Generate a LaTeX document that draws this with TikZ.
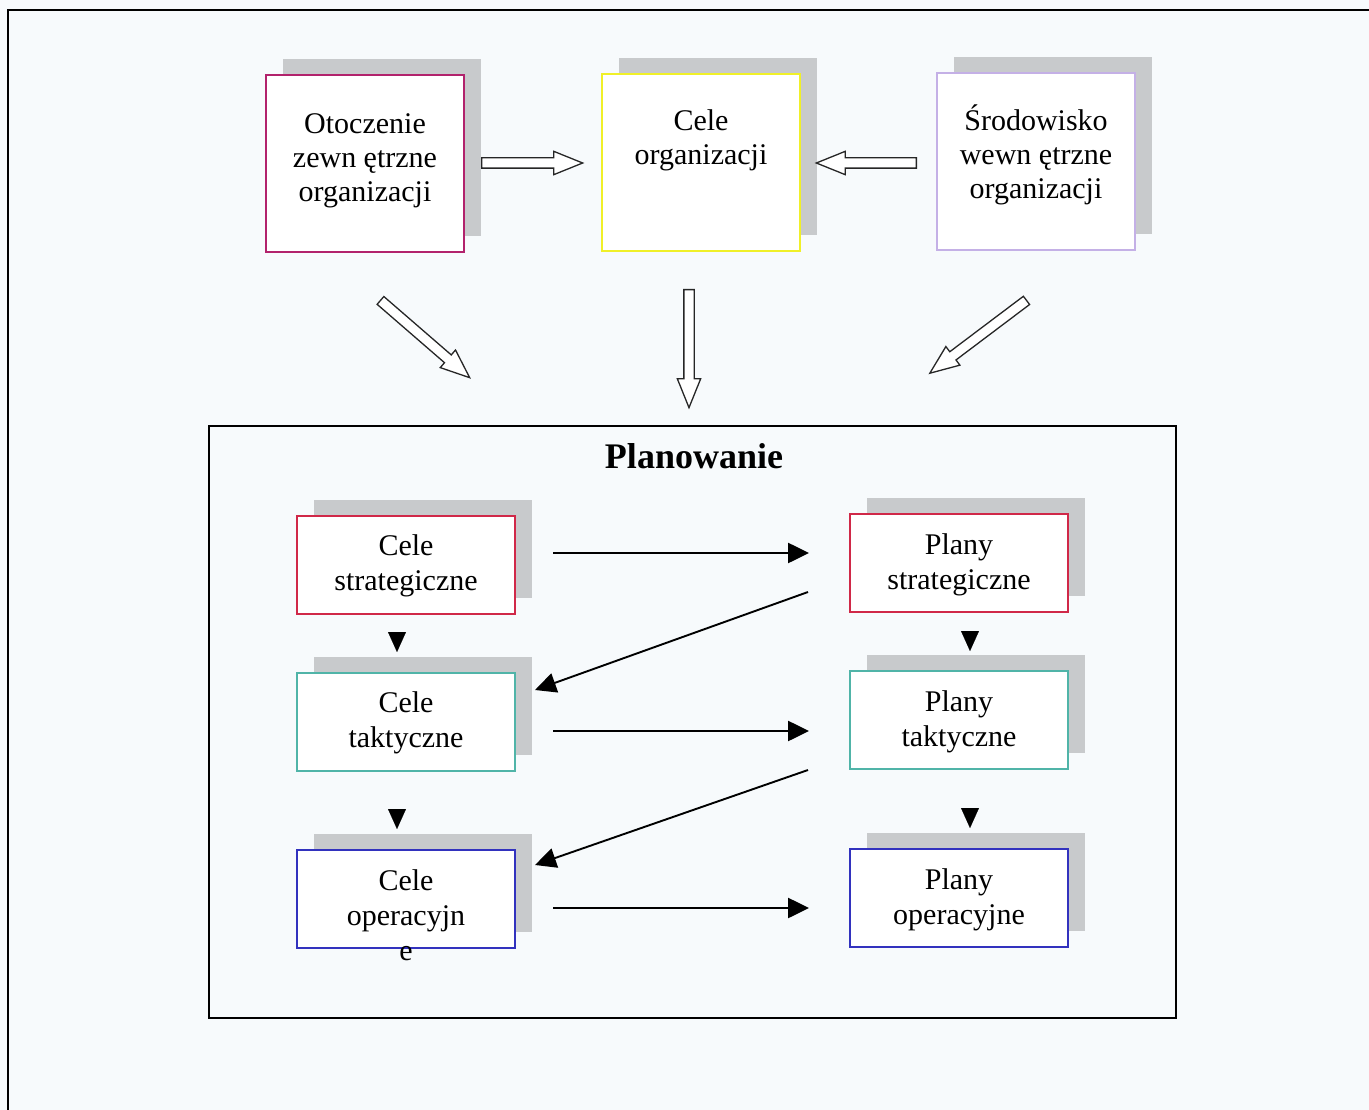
\documentclass[tikz,border=0pt]{standalone}
\usepackage{fontspec}
\setmainfont{Liberation Serif}
\usetikzlibrary{arrows.meta,shapes.arrows,shadows,calc}

\definecolor{bgcol}{RGB}{247,250,252}
\definecolor{shadowgray}{RGB}{200,202,204}
\definecolor{magentaB}{RGB}{178,34,108}
\definecolor{yellowB}{RGB}{240,240,40}
\definecolor{lavB}{RGB}{196,176,230}
\definecolor{redB}{RGB}{208,40,72}
\definecolor{tealB}{RGB}{80,180,168}
\definecolor{blueB}{RGB}{50,50,190}

% fixed first-line height so every label starts at the same baseline
\newcommand{\lnstrut}{\rule{0pt}{29pt}}

\begin{document}
\begin{tikzpicture}[x=1pt,y=-1pt,
  cbox/.style={draw=#1, line width=2pt, fill=white, inner sep=0pt, anchor=north west,
    general shadow={fill=shadowgray, shadow xshift=17pt, shadow yshift=16pt}},
  topbox/.style={cbox=#1, minimum width=198pt, minimum height=177pt},
  lvlbox/.style={cbox=#1, minimum width=218pt, minimum height=98pt},
  toptxt/.style={inner sep=0pt, anchor=north, align=center, font=\fontsize{30}{34}\selectfont},
  lvltxt/.style={inner sep=0pt, anchor=north, align=center, font=\fontsize{30}{35}\selectfont},
  hollow/.style={single arrow, draw=black!85, line width=1.3pt, fill=white,
    inner xsep=0pt, inner ysep=4.5pt, single arrow head extend=6.5pt,
    single arrow tip angle=44, anchor=tail},
  flow/.style={line width=2.6pt, -{Triangle[length=21pt,width=20pt]}},
  downtip/.style={line width=0.1pt, -{Triangle[length=20pt,width=18pt]}}
]
% page and background
\useasboundingbox (0,0) rectangle (1369,1110);
\fill[bgcol] (0,0) rectangle (1369,1110);
\draw[line width=2.4pt] (8,1110) -- (8,10) -- (1369,10);

% upper row: environment and goals
\node[topbox=magentaB] (otoczenie) at (265,74) {};
\node[topbox=yellowB] (cele) at (601,73) {};
\node[topbox=lavB] (srodowisko) at (936,72) {};
\node[toptxt] (otoczenieT) at ([yshift=-30pt]otoczenie.north) {\lnstrut Otoczenie\\zewn ętrzne\\organizacji};
\node[toptxt] (celeT) at ([yshift=-28pt]cele.north) {\lnstrut Cele\\organizacji};
\node[toptxt] (srodowiskoT) at ([yshift=-29pt]srodowisko.north) {\lnstrut Środowisko\\wewn ętrzne\\organizacji};

% hollow arrows, placed by their tails
\node[hollow, minimum height=101pt] (arrOC) at (481,163) {};
\node[hollow, minimum height=100pt, rotate=180] (arrSC) at (917,163) {};
\node[hollow, minimum height=118pt, rotate=-40.9] (arrOP) at (380,300) {};
\node[hollow, minimum height=118pt, rotate=-90] (arrCP) at (689,289) {};
\node[hollow, minimum height=121pt, rotate=-143] (arrSP) at (1027,300) {};

% planning frame
\node[draw, line width=2pt, inner sep=0pt, minimum width=967pt, minimum height=592pt,
  anchor=north west] (plan) at (208,425) {};
\node[font=\fontsize{36}{40}\selectfont\bfseries, anchor=base, inner sep=0pt] (planT) at (694,468) {Planowanie};

% goal levels
\node[lvlbox=redB] (cs) at (296,515) {};
\node[lvlbox=tealB] (ct) at (296,672) {};
\node[lvlbox=blueB] (co) at (296,849) {};
\node[lvltxt] (csT) at ([yshift=-11pt]cs.north) {\lnstrut Cele\\strategiczne};
\node[lvltxt] (ctT) at ([yshift=-11pt]ct.north) {\lnstrut Cele\\taktyczne};
\node[lvltxt] (coT) at ([yshift=-12pt]co.north) {\lnstrut Cele\\operacyjn\\e};

% plan levels
\node[lvlbox=redB] (ps) at (849,513) {};
\node[lvlbox=tealB] (pt) at (849,670) {};
\node[lvlbox=blueB] (po) at (849,848) {};
\node[lvltxt] (psT) at ([yshift=-12pt]ps.north) {\lnstrut Plany\\strategiczne};
\node[lvltxt] (ptT) at ([yshift=-12pt]pt.north) {\lnstrut Plany\\taktyczne};
\node[lvltxt] (poT) at ([yshift=-12pt]po.north) {\lnstrut Plany\\operacyjne};

% level-to-level markers
\draw[downtip] ([xshift=-9pt,yshift=40pt]ct.north) -- ([xshift=-9pt,yshift=20pt]ct.north);
\draw[downtip] ([xshift=-9pt,yshift=40pt]co.north) -- ([xshift=-9pt,yshift=20pt]co.north);
\draw[downtip] ([xshift=11pt,yshift=39pt]pt.north) -- ([xshift=11pt,yshift=19pt]pt.north);
\draw[downtip] ([xshift=11pt,yshift=40pt]po.north) -- ([xshift=11pt,yshift=20pt]po.north);

% goals to plans and back
\coordinate (g1) at (553,553);  \coordinate (p1) at (809,553);
\coordinate (g2) at (553,731);  \coordinate (p2) at (809,731);
\coordinate (g3) at (553,908);  \coordinate (p3) at (809,908);
\coordinate (r1) at (808,592);  \coordinate (q1) at (535,690);
\coordinate (r2) at (808,770);  \coordinate (q2) at (535,865);
\draw[flow] (g1) -- (p1);
\draw[flow] (g2) -- (p2);
\draw[flow] (g3) -- (p3);
\draw[flow, line width=1.9pt] (r1) -- (q1);
\draw[flow, line width=1.9pt] (r2) -- (q2);
\end{tikzpicture}
\end{document}
